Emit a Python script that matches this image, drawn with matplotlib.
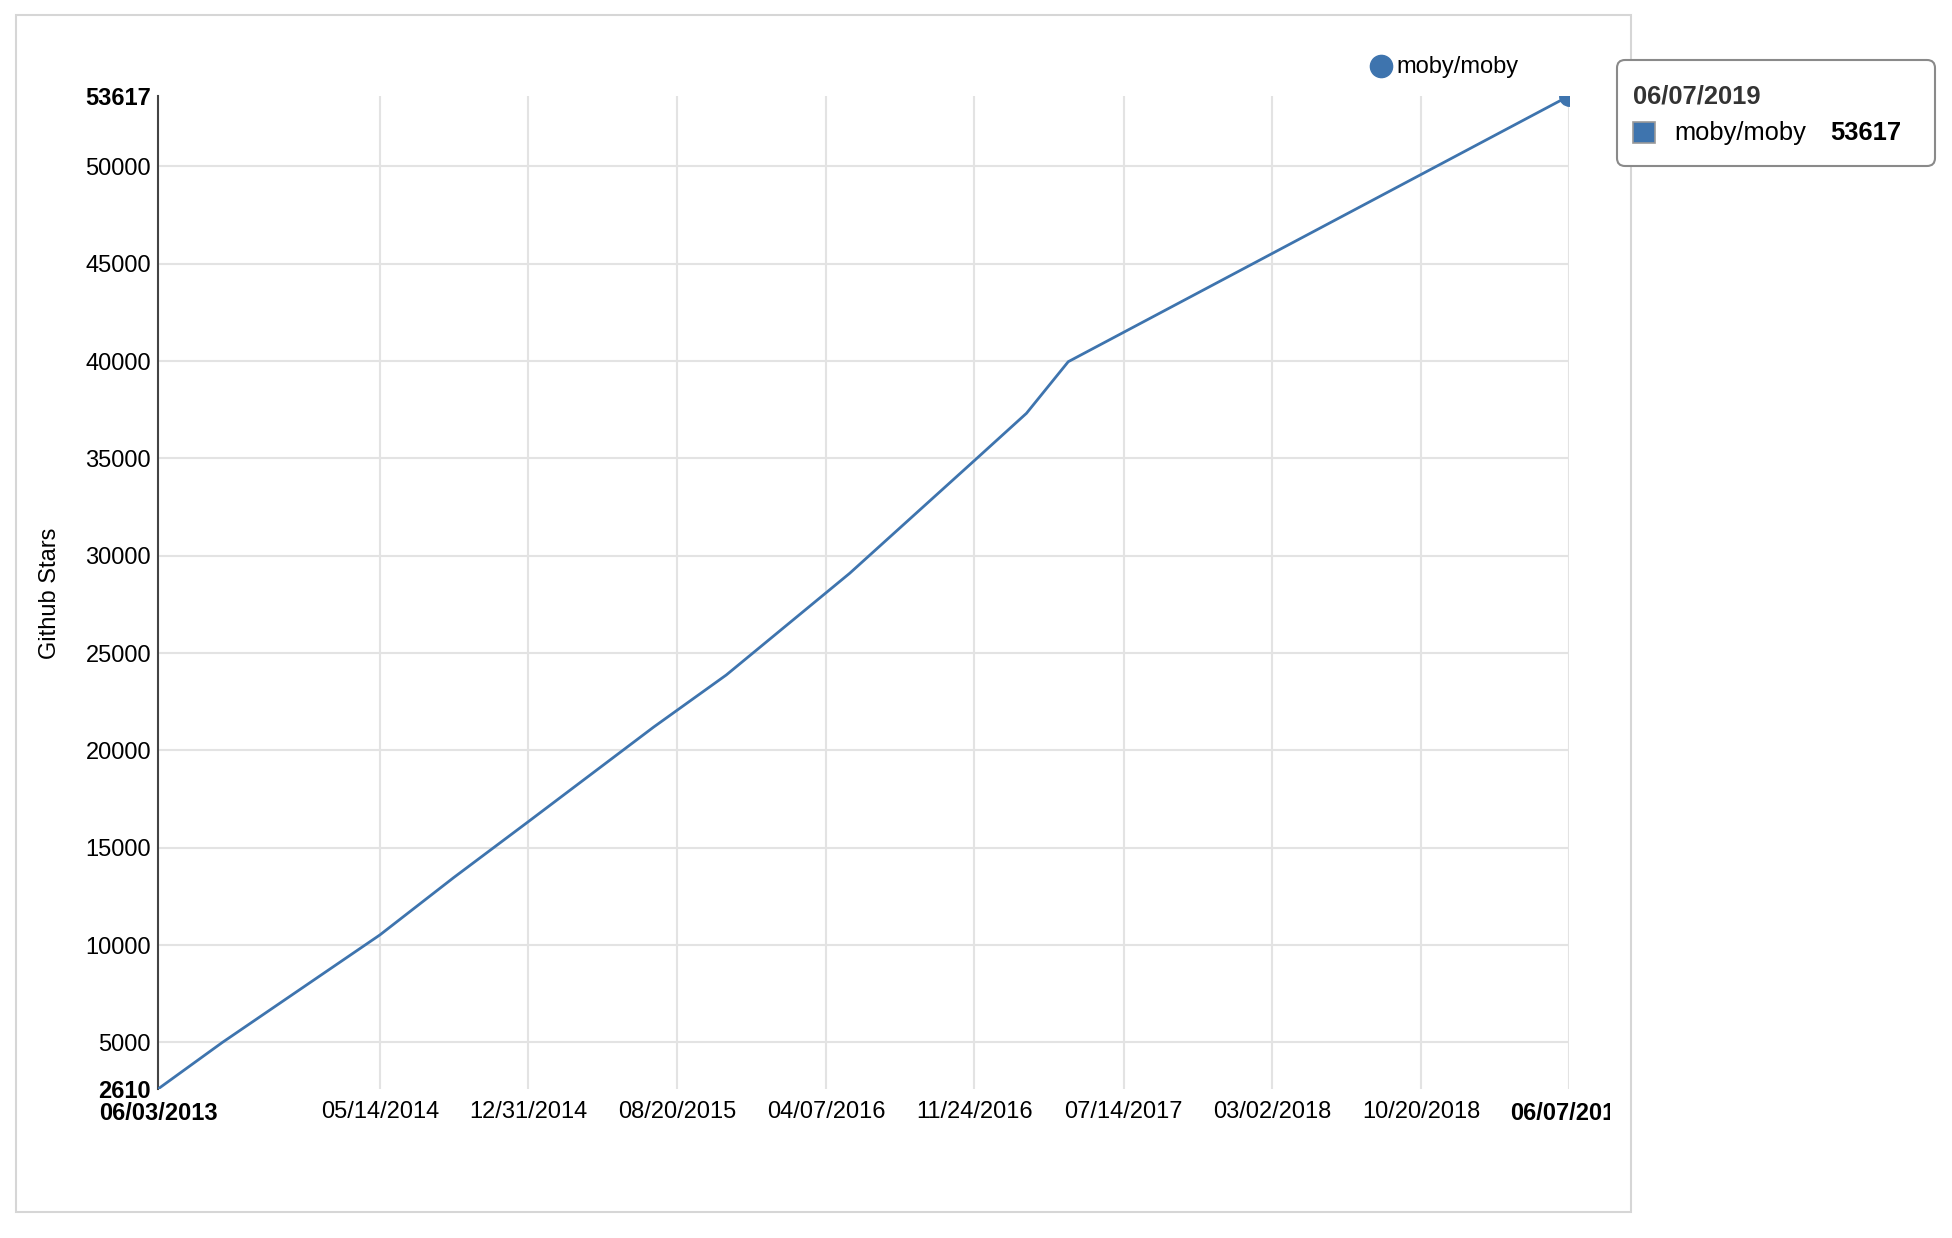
import datetime as dt
import matplotlib
matplotlib.use("Agg")
from matplotlib import pyplot as plt
import matplotlib.dates as mdates
from matplotlib.patches import Rectangle, FancyBboxPatch
from matplotlib.transforms import Bbox, TransformedBbox, IdentityTransform

plt.rcParams['font.family'] = ['Liberation Sans', 'DejaVu Sans']

# star history for moby/moby
repo = "moby/moby"
dates = ["2013-06-03", "2013-09-11", "2014-05-14", "2014-09-06", "2014-12-31",
         "2015-07-14", "2015-11-04", "2016-05-14", "2016-11-25", "2017-02-13",
         "2017-04-19", "2019-06-07"]
stars = [2610, 5000, 10520, 13470, 16340, 21200, 23876, 29100, 34920, 37318,
         39969, 53617]

x_tick_dates = ["2013-06-03", "2014-05-14", "2014-12-31", "2015-08-20", "2016-04-07",
                "2016-11-24", "2017-07-14", "2018-03-02", "2018-10-20", "2019-06-07"]
x_tick_labels = ["06/03/2013", "05/14/2014", "12/31/2014", "08/20/2015", "04/07/2016",
                 "11/24/2016", "07/14/2017", "03/02/2018", "10/20/2018", "06/07/2019"]
y_ticks = [2610, 5000, 10000, 15000, 20000, 25000, 30000, 35000, 40000, 45000, 50000, 53617]

tooltip_date = "06/07/2019"
tooltip_value = "53617"

LINE = '#3e74ae'
GRID = '#e3e3e3'
W, H = 1952, 1238


def to_date(s):
    return dt.datetime.strptime(s, "%Y-%m-%d")


xs = [to_date(d) for d in dates]
xt = [mdates.date2num(to_date(d)) for d in x_tick_dates]

fig = plt.figure(figsize=(W / 100, H / 100), dpi=100)
ax = fig.add_axes([158 / W, 149 / H, 1411 / W, 993 / H])

ax.plot(xs, stars, color=LINE, lw=2.0, zorder=3)
# hover dot on the last point, cut by the plot edge like in the original
ax.plot(xs[-1], stars[-1], 'o', color=LINE, ms=14, zorder=4)

ax.set_xlim(xs[0], xs[-1])
ax.set_ylim(y_ticks[0], y_ticks[-1])

# grid lines, drawn by hand so the edges stay clean
for y in y_ticks[1:-1]:
    ax.axhline(y, color=GRID, lw=1.5, zorder=1)
for x in xt[1:]:
    ax.axvline(x, color=GRID, lw=1.5, zorder=1)

for s in ['top', 'right', 'bottom']:
    ax.spines[s].set_visible(False)
ax.spines['left'].set_color('#444444')
ax.spines['left'].set_linewidth(1.5)

ax.set_yticks(y_ticks)
ax.set_yticklabels([str(v) for v in y_ticks])
ax.set_xticks(xt)
ax.set_xticklabels(x_tick_labels)
ax.tick_params(axis='both', length=0, labelsize=17, colors='black')
ax.tick_params(axis='y', pad=5)
ax.tick_params(axis='x', pad=9)

for lab in [ax.get_yticklabels()[0], ax.get_yticklabels()[-1],
            ax.get_xticklabels()[0], ax.get_xticklabels()[-1]]:
    lab.set_fontweight('bold')

# the last date label is cut off by the chart border
last = ax.get_xticklabels()[-1]
last.set_clip_on(True)
last.set_clip_box(TransformedBbox(Bbox([[0, 0], [1610 / W, 1]]), fig.transFigure))

fig.text(50 / W, 1 - 593 / H, "Github Stars", rotation=90, ha='center', va='center',
         fontsize=17)

# outer chart frame
fig.add_artist(Rectangle((16, H - 1212), 1615, 1197, transform=IdentityTransform(),
                         fill=False, edgecolor='#d6d6d6', lw=1.5, zorder=0))

# legend
fig.add_artist(plt.Line2D([1381], [H - 66], marker='o', ms=16, color=LINE,
                          transform=IdentityTransform()))
fig.text(1396 / W, 1 - 67 / H, repo, ha='left', va='center', fontsize=17)

# tooltip
box = FancyBboxPatch((1617, H - 166), 318, 106, boxstyle="round,pad=0,rounding_size=8",
                     transform=IdentityTransform(), facecolor='white',
                     edgecolor='#8a8a8a', lw=1.5, zorder=5)
fig.add_artist(box)
fig.text(1633 / W, 1 - 96 / H, tooltip_date, ha='left', va='center', fontsize=18.4,
         fontweight='bold', color='#333333', zorder=6)
fig.add_artist(Rectangle((1633, H - 143), 22, 21, transform=IdentityTransform(),
                         facecolor=LINE, edgecolor='#999999', lw=1.2, zorder=6))
fig.text(1674 / W, 1 - 133 / H, repo, ha='left', va='center', fontsize=18.4, zorder=6)
fig.text(1830 / W, 1 - 133 / H, tooltip_value, ha='left', va='center', fontsize=18.4,
         fontweight='bold', zorder=6)

fig.savefig("out.png", dpi=100, facecolor='white')
